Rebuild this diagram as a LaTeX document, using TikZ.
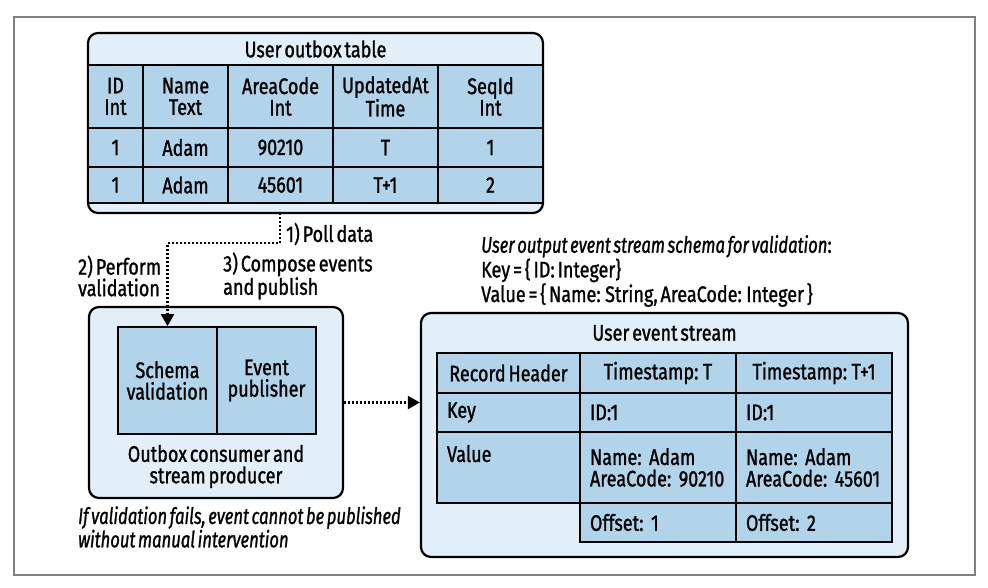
\documentclass[tikz,border=0pt]{standalone}
\usepackage{fontspec}
\setmainfont[FakeStretch=0.80, FakeBold=1.1, WordSpace=0.6,
  ItalicFeatures={FakeStretch=0.74}]{Fira Sans}
\usepackage{xcolor}
\usepackage{tikz}
\usetikzlibrary{arrows.meta, positioning}

\definecolor{boxlight}{HTML}{E2EEF8}
\definecolor{cellblue}{HTML}{B2D4EB}
\definecolor{framegray}{HTML}{808080}
\newcommand{\mainsize}{\fontsize{22.5}{21.5}\selectfont}

\tikzset{
  holder/.style={draw, line width=2.2pt, fill=boxlight, rounded corners=10pt, inner sep=0pt},
  cell/.style={draw, line width=1.8pt, fill=cellblue, inner sep=0pt, align=center},
  lcell/.style={cell, align=left, inner xsep=10pt},
  note/.style={inner sep=0pt, align=left, anchor=west},
  flow/.style={line width=2.2pt, dash pattern=on 2pt off 2pt, -{Triangle[length=12pt,width=13pt]}},
}

\begin{document}
\begin{tikzpicture}[x=1pt, y=-1pt, every node/.append style={font=\mainsize}]
  \useasboundingbox (0,0) rectangle (988,587);
  \draw[framegray, line width=1.3pt] (14,17) rectangle (975,575);

  % outbox table
  \node[holder, minimum width=455pt, minimum height=180pt] (outbox) at (315.5,123) {};
  \node (outtitle) at (315.5,49) {User outbox table};
  \begin{scope}[every node/.style={cell, font=\mainsize, minimum height=63pt}]
    \node[minimum width=55pt] (idh) at (115.5,96.5) {ID\\Int};
    \node[minimum width=85pt] (nameh) at (185.5,96.5) {Name\\Text};
    \node[minimum width=105pt] (areah) at (280.5,96.5) {AreaCode\\Int};
    \node[minimum width=105pt] (updh) at (385.5,96.5) {UpdatedAt\\Time};
    \node[minimum width=105pt] (seqh) at (490.5,96.5) {SeqId\\Int};
  \end{scope}
  \begin{scope}[every node/.style={cell, font=\mainsize, minimum height=39pt}]
    \node[minimum width=55pt] (ida) at (115.5,147.5) {1};
    \node[minimum width=85pt] (namea) at (185.5,147.5) {Adam};
    \node[minimum width=105pt] (areaa) at (280.5,147.5) {90210};
    \node[minimum width=105pt] (upda) at (385.5,147.5) {T};
    \node[minimum width=105pt] (seqa) at (490.5,147.5) {1};
  \end{scope}
  \begin{scope}[every node/.style={cell, font=\mainsize, minimum height=36pt}]
    \node[minimum width=55pt] (idb) at (115.5,185) {1};
    \node[minimum width=85pt] (nameb) at (185.5,185) {Adam};
    \node[minimum width=105pt] (areab) at (280.5,185) {45601};
    \node[minimum width=105pt] (updb) at (385.5,185) {T+1};
    \node[minimum width=105pt] (seqb) at (490.5,185) {2};
  \end{scope}

  % consumer
  \node[holder, minimum width=254pt, minimum height=191pt] (consumer) at (216,402.5) {};
  \node[cell, minimum width=99pt, minimum height=107pt] (schema) at (167.5,380.5) {Schema\\validation};
  \node[cell, minimum width=99pt, minimum height=107pt] (publisher) at (266.5,380.5) {Event\\publisher};
  \node[align=center] (conlabel) at (216,466.5) {Outbox consumer and\\stream producer};

  % event stream
  \node[holder, minimum width=487pt, minimum height=244pt] (stream) at (664.5,435) {};
  \node (streamtitle) at (664.5,333) {User event stream};
  \node[cell, minimum width=143pt, minimum height=40pt] (rech) at (508.5,373) {Record Header};
  \node[cell, minimum width=156pt, minimum height=40pt] (tsa) at (658,373) {Timestamp: T};
  \node[cell, minimum width=156pt, minimum height=40pt] (tsb) at (814,373) {Timestamp: T+1};
  \node[lcell, text width=123pt, minimum height=39pt] (keyl) at (508.5,412.5) {Key};
  \node[lcell, text width=136pt, minimum height=39pt] (keya) at (658,412.5) {ID:1};
  \node[lcell, text width=136pt, minimum height=39pt] (keyb) at (814,412.5) {ID:1};
  \node[lcell, text width=123pt, minimum height=71pt] (vall) at (508.5,467.5) {Value\\\strut};
  \node[lcell, text width=136pt, minimum height=71pt] (vala) at (658,467.5) {Name:~Adam\\AreaCode:~90210};
  \node[lcell, text width=136pt, minimum height=71pt] (valb) at (814,467.5) {Name:~Adam\\AreaCode:~45601};
  \node[lcell, text width=136pt, minimum height=39pt] (offa) at (658,522.5) {Offset:~1};
  \node[lcell, text width=136pt, minimum height=39pt] (offb) at (814,522.5) {Offset:~2};

  % labels
  \node[note] (polltxt) at (286,234) {1) Poll data};
  \node[note] (valtxt) at (78,276) {2) Perform\\validation};
  \node[note] (comptxt) at (223,276) {3) Compose events\\and publish};
  \node[note, font=\mainsize\itshape] (failtxt) at (78,527) {If validation fails, event cannot be published\\without manual intervention};
  \node[note] (schematxt) at (481,271) {\textit{User output event stream schema for validation}:\\Key = \{ ID: Integer\}\\Value = \{ Name: String, AreaCode: Integer \}};

  % connectors
  \coordinate (poll) at (280,213);
  \coordinate (turn) at (167.5,243);
  \draw[flow] (poll) |- (turn) -- (schema.north);
  \draw[flow] (consumer.east) -- (consumer.east -| stream.west);
\end{tikzpicture}
\end{document}
